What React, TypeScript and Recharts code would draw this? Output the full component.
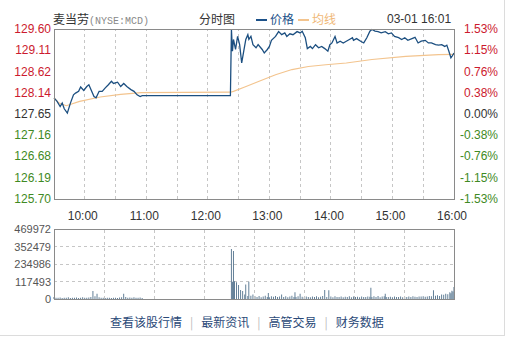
import { Bar, CartesianGrid, ComposedChart, Line, ReferenceLine, XAxis, YAxis } from "recharts";

// minute offset from 9:30, price
const priceMorning: [number, number][] = [
  [0, 128.02], [3, 127.94], [6, 127.82], [8, 127.9], [10, 127.77], [13, 127.67],
  [16, 127.9], [19, 128.09], [21, 128.13], [24, 128.17], [26, 128.27], [29, 128.19],
  [32, 128.28], [34, 128.32], [36, 128.21], [39, 128.05], [41, 128.02], [44, 128.17],
  [47, 128.17], [50, 128.25], [53, 128.32], [56, 128.4], [58, 128.35], [62, 128.38],
  [65, 128.28], [68, 128.35], [71, 128.28], [75, 128.21], [78, 128.17], [81, 128.09],
  [84, 128.05], [86, 128.07], [172, 128.07],
];
const priceAfternoon: [number, number][] = [
  [173, 129.59], [174, 129.09], [175, 129.36], [177, 129.13], [179, 129.43], [181, 129.24],
  [183, 128.82], [185, 129.09], [187, 129.36], [189, 129.47], [190, 129.36], [192, 129.43],
  [194, 129.24], [197, 129.17], [199, 129.24], [203, 129.13], [205, 129.05], [208, 129.13],
  [210, 129.2], [212, 129.34], [216, 129.43], [219, 129.54], [222, 129.47], [225, 129.51],
  [227, 129.43], [230, 129.49], [233, 129.47], [237, 129.54], [240, 129.51], [242, 129.55],
  [245, 129.4], [247, 129.15], [250, 129.2], [252, 129.15], [255, 129.24], [258, 129.17],
  [261, 129.2], [264, 129.15], [267, 129.09], [269, 129.24], [271, 129.28], [274, 129.43],
  [276, 129.28], [279, 129.32], [282, 129.28], [285, 129.32], [288, 129.36], [291, 129.4],
  [292, 129.34], [295, 129.38], [299, 129.32], [302, 129.28], [305, 129.4], [308, 129.55],
  [310, 129.59], [313, 129.55], [316, 129.54], [319, 129.51], [323, 129.54], [326, 129.49],
  [329, 129.51], [332, 129.43], [336, 129.4], [339, 129.36], [342, 129.4], [345, 129.34],
  [349, 129.38], [352, 129.41], [355, 129.28], [358, 129.32], [362, 129.34], [365, 129.28],
  [368, 129.28], [372, 129.24], [375, 129.23], [378, 129.24], [381, 129.2], [383, 129.23],
  [385, 129.09], [387, 128.94], [388, 128.97], [390, 129.05],
];
const avgPrice: [number, number][] = [
  [0, 128.02], [5, 127.9], [12, 127.84], [25, 127.94], [45, 128.04], [65, 128.1],
  [85, 128.14], [172, 128.15], [175, 128.17], [186, 128.27], [200, 128.4], [216, 128.55],
  [232, 128.67], [248, 128.74], [265, 128.78], [285, 128.82], [310, 128.9], [343, 128.97],
  [375, 129.01], [390, 129.02],
];

const volMorning: [number, number][] = [
  [0, 14000], [2, 9000], [4, 8000], [6, 10000], [8, 7000], [10, 9000], [12, 8000],
  [14, 11000], [16, 7000], [18, 9000], [20, 8000], [22, 10000], [24, 7000], [26, 9000],
  [28, 12000], [30, 8000], [32, 9000], [34, 10000], [36, 14000], [38, 54000], [40, 18000],
  [42, 36000], [44, 12000], [46, 9000], [48, 8000], [50, 7000], [52, 9000], [54, 8000],
  [56, 7000], [58, 9000], [60, 8000], [62, 7000], [64, 10000], [66, 12000], [68, 35000],
  [70, 14000], [72, 9000], [74, 10000], [76, 8000], [78, 12000], [80, 9000], [82, 8000],
  [84, 10000], [86, 7000],
];
const volAfternoon: [number, number][] = [
  [173, 336000], [174, 116000], [175, 322000], [176, 120000], [178, 112000], [180, 94000],
  [182, 60000], [184, 54000], [186, 30000], [187, 98000], [189, 20000], [190, 116000],
  [192, 22000], [194, 31000], [196, 18000], [198, 14000], [200, 20000], [202, 12000],
  [204, 16000], [206, 22000], [208, 14000], [209, 40000], [210, 12000], [212, 18000],
  [214, 15000], [216, 20000], [218, 13000], [220, 17000], [222, 30000], [224, 14000],
  [226, 19000], [228, 12000], [230, 16000], [232, 21000], [234, 13000], [235, 45000],
  [236, 14000], [238, 18000], [240, 35000], [242, 15000], [244, 12000], [246, 17000],
  [248, 14000], [250, 11000], [252, 16000], [254, 13000], [256, 18000], [258, 12000],
  [260, 15000], [262, 20000], [264, 60000], [266, 14000], [268, 58000], [270, 16000],
  [272, 12000], [274, 18000], [276, 14000], [278, 13000], [280, 17000], [282, 12000],
  [284, 15000], [286, 14000], [288, 19000], [290, 12000], [292, 16000], [294, 13000],
  [296, 15000], [298, 12000], [300, 17000], [302, 14000], [304, 13000], [306, 16000],
  [308, 15000], [309, 75000], [310, 14000], [312, 18000], [314, 13000], [316, 20000],
  [318, 12000], [320, 16000], [322, 19000], [323, 36000], [324, 14000], [326, 13000],
  [328, 15000], [330, 12000], [332, 16000], [334, 14000], [336, 13000], [338, 17000],
  [340, 12000], [342, 15000], [344, 14000], [346, 16000], [348, 13000], [350, 18000],
  [352, 15000], [354, 14000], [356, 17000], [358, 16000], [360, 18000], [362, 15000],
  [364, 17000], [366, 20000], [368, 18000], [370, 58000], [372, 22000], [374, 26000],
  [376, 20000], [378, 30000], [380, 28000], [382, 35000], [384, 32000], [386, 45000],
  [387, 38000], [388, 55000], [389, 50000], [390, 80000],
];

const priceTicks = [125.7, 126.19, 126.68, 127.16, 127.65, 128.14, 128.62, 129.11, 129.6];
const pctLabels = ["-1.53%", "-1.15%", "-0.76%", "-0.38%", "0.00%", "0.38%", "0.76%", "1.15%", "1.53%"];
const prevClose = 127.65;
const timeGrid = [30, 60, 90, 120, 150, 180, 210, 240, 270, 300, 330, 360, 390];
const hourLabels: Record<number, string> = {
  30: "10:00", 90: "11:00", 150: "12:00", 210: "13:00", 270: "14:00", 330: "15:00", 390: "16:00",
};
const volTicks = [0, 117493, 234986, 352479, 469972];
// volume pane splits the session into 8 equal grid sections
const volGrid = [48.75, 97.5, 146.25, 195, 243.75, 292.5, 341.25];

const RED = "#cc1a2e";
const GREEN = "#3f8a24";
const GRAY = "#333";
const GRID = "#c6c6c6";
const NUM_FONT = "'Liberation Sans', Arial, sans-serif";
const MONO_FONT = "'Liberation Mono', monospace";
const CJK_FONT = "'Noto Sans CJK SC', sans-serif";

const byMinute = new Map<number, { m: number; price?: number; avg?: number }>();
for (const [m, p] of [...priceMorning, ...priceAfternoon]) byMinute.set(m, { m, price: p });
for (const [m, a] of avgPrice) byMinute.set(m, { ...(byMinute.get(m) ?? { m }), avg: a });
const lineData = [...byMinute.values()].sort((a, b) => a.m - b.m);
const volData = [...volMorning, ...volAfternoon].map(([m, v]) => ({ m, v }));

const tone = (v: number) => (v > prevClose + 0.001 ? RED : v < prevClose - 0.001 ? GREEN : GRAY);

function PriceTick({ y, payload }: any) {
  return (
    <text x={51} y={y} textAnchor="end" dominantBaseline="central" fill={tone(payload.value)}
      fontSize={12} fontFamily={NUM_FONT}>
      {payload.value.toFixed(2)}
    </text>
  );
}

function PctTick({ y, payload, index }: any) {
  return (
    <text x={498} y={y} textAnchor="end" dominantBaseline="central" fill={tone(payload.value)}
      fontSize={12} fontFamily={NUM_FONT}>
      {pctLabels[index]}
    </text>
  );
}

function TimeTick({ x, payload }: any) {
  const label = hourLabels[payload.value];
  if (!label) return <g />;
  return (
    <text x={x - 2} y={216} textAnchor="middle" dominantBaseline="central" fill={GRAY}
      fontSize={12} fontFamily={NUM_FONT}>
      {label}
    </text>
  );
}

function VolTick({ y, payload }: any) {
  return (
    <text x={51} y={y} textAnchor="end" dominantBaseline="central" fill="#555"
      fontSize={11} fontFamily={NUM_FONT}>
      {payload.value}
    </text>
  );
}

const frame = (left: number, top: number, width: number, height: number) => ({
  position: "absolute" as const, left, top, width, height,
  border: "1px solid #8a8a8a", boxSizing: "border-box" as const, pointerEvents: "none" as const,
});

export default function App() {
  return (
    <div style={{ position: "absolute", left: 0, top: 0, width: 504, height: 335, background: "#fff",
      borderRight: "1px solid #dcdcdc", borderBottom: "1px solid #dcdcdc", fontFamily: CJK_FONT }}>
      <div style={{ position: "absolute", left: 53, top: 11, fontSize: 12, lineHeight: "16px", color: GRAY, whiteSpace: "nowrap" }}>
        麦当劳<span style={{ color: "#888", fontFamily: MONO_FONT, fontSize: 10 }}>(NYSE:MCD)</span>
      </div>
      <div style={{ position: "absolute", left: 199, top: 11, fontSize: 12, lineHeight: "16px", color: GRAY }}>分时图</div>
      <div style={{ position: "absolute", left: 256, top: 19, width: 11, height: 2, background: "#1c5189" }} />
      <div style={{ position: "absolute", left: 270, top: 11, fontSize: 12, lineHeight: "16px", color: "#1c5189" }}>价格</div>
      <div style={{ position: "absolute", left: 298, top: 19, width: 11, height: 2, background: "#f3c48e" }} />
      <div style={{ position: "absolute", left: 312, top: 11, fontSize: 12, lineHeight: "16px", color: "#f0b877" }}>均线</div>
      <div style={{ position: "absolute", left: 387, top: 11, fontSize: 12, lineHeight: "16px", color: GRAY, fontFamily: NUM_FONT }}>03-01 16:01</div>

      <div style={{ position: "absolute", left: 0, top: 0 }}>
        <ComposedChart width={508} height={230} data={lineData} margin={{ top: 29, right: 0, bottom: 0, left: 0 }}>
          <CartesianGrid stroke={GRID} strokeDasharray="3 3" vertical={false} shapeRendering="crispEdges" />
          <XAxis type="number" dataKey="m" domain={[0, 390]} ticks={timeGrid} interval={0}
            axisLine={false} tickLine={false} height={31} tick={<TimeTick />} />
          <YAxis yAxisId="left" domain={[125.7, 129.6]} ticks={priceTicks} interval={0} width={54}
            axisLine={false} tickLine={false} tick={<PriceTick />} />
          <YAxis yAxisId="right" orientation="right" domain={[125.7, 129.6]} ticks={priceTicks} interval={0}
            width={54} axisLine={false} tickLine={false} tick={<PctTick />} />
          {timeGrid.map((m) => (
            <ReferenceLine key={m} yAxisId="left" x={m} stroke={GRID} strokeDasharray="3 3"
              shapeRendering="crispEdges" />
          ))}
          <Line yAxisId="right" dataKey="avg" stroke="#f3c48e" strokeWidth={1.2} dot={false}
            connectNulls isAnimationActive={false} />
          <Line yAxisId="left" dataKey="price" stroke="#1c4f80" strokeWidth={1.3} dot={false}
            connectNulls isAnimationActive={false} />
        </ComposedChart>
      </div>
      <div style={frame(54, 29, 401, 171)} />

      <div style={{ position: "absolute", left: 0, top: 220 }}>
        <ComposedChart width={508} height={90} data={volData} margin={{ top: 9, right: 54, bottom: 0, left: 0 }}>
          <CartesianGrid stroke={GRID} strokeDasharray="3 3" vertical={false} shapeRendering="crispEdges" />
          <XAxis type="number" dataKey="m" domain={[0, 390]} height={11} axisLine={false} tickLine={false} tick={false} />
          <YAxis domain={[0, 469972]} ticks={volTicks} interval={0} width={54}
            axisLine={false} tickLine={false} tick={<VolTick />} />
          {volGrid.map((m) => (
            <ReferenceLine key={m} x={m} stroke={GRID} strokeDasharray="3 3" shapeRendering="crispEdges" />
          ))}
          <Bar dataKey="v" fill="#56758f" barSize={2} isAnimationActive={false} />
        </ComposedChart>
      </div>
      <div style={frame(54, 229, 401, 71)} />

      <div style={{ position: "absolute", left: 110, top: 313, fontSize: 12, lineHeight: "18px", color: "#2b4a78", whiteSpace: "nowrap" }}>
        查看该股行情<span style={{ color: "#bbb", margin: "0 8px" }}>|</span>最新资讯
        <span style={{ color: "#bbb", margin: "0 8px" }}>|</span>高管交易
        <span style={{ color: "#bbb", margin: "0 8px" }}>|</span>财务数据
      </div>
    </div>
  );
}
